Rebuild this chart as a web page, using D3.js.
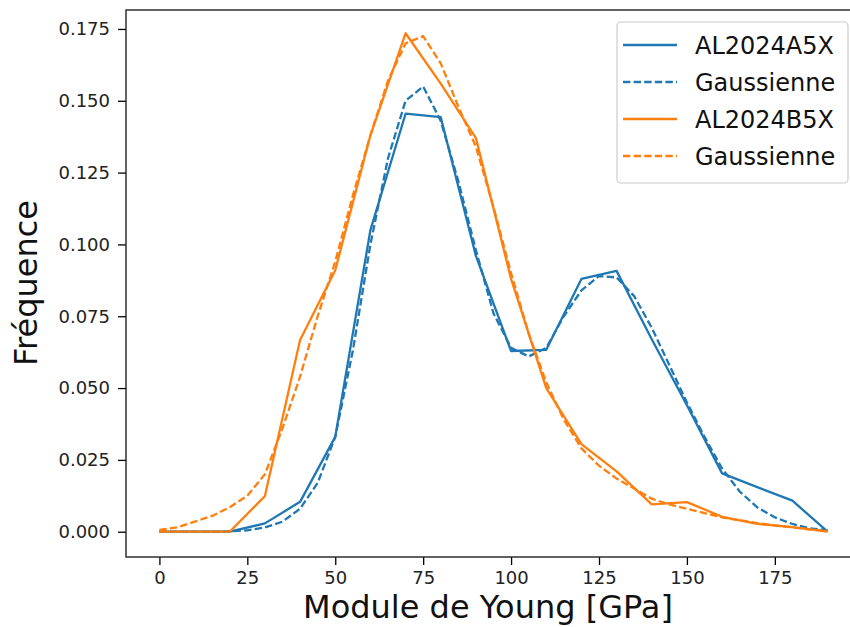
<!DOCTYPE html>
<html><head><meta charset="utf-8">
<script src="https://cdn.jsdelivr.net/npm/d3@7"></script>
<style>body{margin:0;background:#fff}svg{display:block;font-family:"DejaVu Sans",sans-serif}</style>
</head><body><svg id="c" width="850" height="627"></svg>
<script>
const xData = [0,10,20,30,40,50,60,70,80,90,100,110,120,130,140,150,160,170,180,190];
const seriesA = [0,0,0,0.0029,0.0104,0.033,0.105,0.1455,0.1443,0.096,0.0629,0.0633,0.088,0.0908,0.067,0.044,0.0203,0.0155,0.0108,0];
const seriesB = [0,0,0,0.0124,0.0667,0.091,0.138,0.1735,0.156,0.137,0.088,0.050,0.0305,0.021,0.0095,0.0103,0.0052,0.0027,0.0016,0];
const xFit = [0,5,10,15,20,25,30,35,40,45,50,55,60,65,70,75,80,85,90,95,100,105,110,115,120,125,130,135,140,145,150,155,160,165,170,175,180,185,190];
const fitA = [0,0,0,0,0.0001,0.0005,0.0015,0.0035,0.008,0.017,0.033,0.063,0.100,0.130,0.150,0.155,0.143,0.122,0.098,0.076,0.064,0.061,0.064,0.075,0.084,0.089,0.0885,0.082,0.071,0.058,0.045,0.033,0.022,0.014,0.0085,0.005,0.0027,0.0012,0.0005];
const fitB = [0.0006,0.0015,0.0035,0.0055,0.0085,0.0125,0.020,0.036,0.054,0.075,0.094,0.117,0.138,0.157,0.170,0.1725,0.163,0.148,0.134,0.113,0.090,0.069,0.052,0.039,0.029,0.023,0.0185,0.015,0.0115,0.0095,0.008,0.0065,0.005,0.004,0.003,0.0022,0.0015,0.0008,0.0003];
const xTicks = [0,25,50,75,100,125,150,175];
const yTicks = [0,0.025,0.05,0.075,0.1,0.125,0.15,0.175];
const legendLabels = ["AL2024A5X","Gaussienne","AL2024B5X","Gaussienne"];
const xLabel = "Module de Young [GPa]";
const yLabel = "Fréquence";

const blue = "#1f77b4", orange = "#ff7f0e";
const L = 126, R = 861, T = 10, B = 557;
const svg = d3.select("#c");
const x = d3.scaleLinear().domain([-9.5, 199.5]).range([L, R]);
const y = d3.scaleLinear().domain([-0.0088, 0.1816]).range([B, T]);

svg.append("defs").append("clipPath").attr("id","clp").append("rect")
  .attr("x",L).attr("y",T).attr("width",R-L).attr("height",B-T);

const line = d3.line().x(d=>x(d[0])).y(d=>y(d[1]));
const g = svg.append("g").attr("clip-path","url(#clp)");
const series = [
  {xs:xData, ys:seriesA, color:blue, dash:null},
  {xs:xFit, ys:fitA, color:blue, dash:"7.4,3.2"},
  {xs:xData, ys:seriesB, color:orange, dash:null},
  {xs:xFit, ys:fitB, color:orange, dash:"7.4,3.2"}
];
series.forEach(s=>{
  g.append("path").datum(s.xs.map((v,i)=>[v,s.ys[i]]))
   .attr("d",line).attr("fill","none").attr("stroke",s.color)
   .attr("stroke-width",2.3).attr("stroke-linejoin","round")
   .attr("stroke-dasharray",s.dash);
});

const xa = svg.append("g").attr("transform",`translate(0,${B})`)
  .call(d3.axisBottom(x).tickValues(xTicks).tickFormat(d3.format("d")).tickSize(8).tickPadding(6));
const ya = svg.append("g").attr("transform",`translate(${L},0)`)
  .call(d3.axisLeft(y).tickValues(yTicks).tickFormat(d3.format(".3f")).tickSize(8).tickPadding(8));
[xa,ya].forEach(a=>{
  a.select(".domain").remove();
  a.selectAll("line").attr("stroke","#000").attr("stroke-width",1.3);
  a.selectAll("text").attr("font-size",18).attr("fill","#222").attr("font-family","DejaVu Sans");
});
svg.append("rect").attr("x",L).attr("y",T).attr("width",R-L).attr("height",B-T)
  .attr("fill","none").attr("stroke","#222").attr("stroke-width",1.4);

svg.append("text").attr("x",488).attr("y",618).attr("text-anchor","middle")
  .attr("font-size",32).attr("fill","#111").text(xLabel);
svg.append("text").attr("transform","translate(37,283) rotate(-90)").attr("text-anchor","middle")
  .attr("font-size",32).attr("fill","#111").text(yLabel);

const lg = svg.append("g");
lg.append("rect").attr("x",617).attr("y",22).attr("width",231).attr("height",161)
  .attr("rx",4).attr("fill","#fff").attr("fill-opacity",0.8).attr("stroke","#ccc").attr("stroke-width",1.2);
series.forEach((s,i)=>{
  const cy = 45 + i*37;
  lg.append("line").attr("x1",623).attr("x2",677).attr("y1",cy).attr("y2",cy)
    .attr("stroke",s.color).attr("stroke-width",2.3).attr("stroke-dasharray",s.dash);
  lg.append("text").attr("x",695).attr("y",cy).attr("dy","0.36em")
    .attr("font-size",24).attr("fill","#111").text(legendLabels[i]);
});
</script></body></html>
